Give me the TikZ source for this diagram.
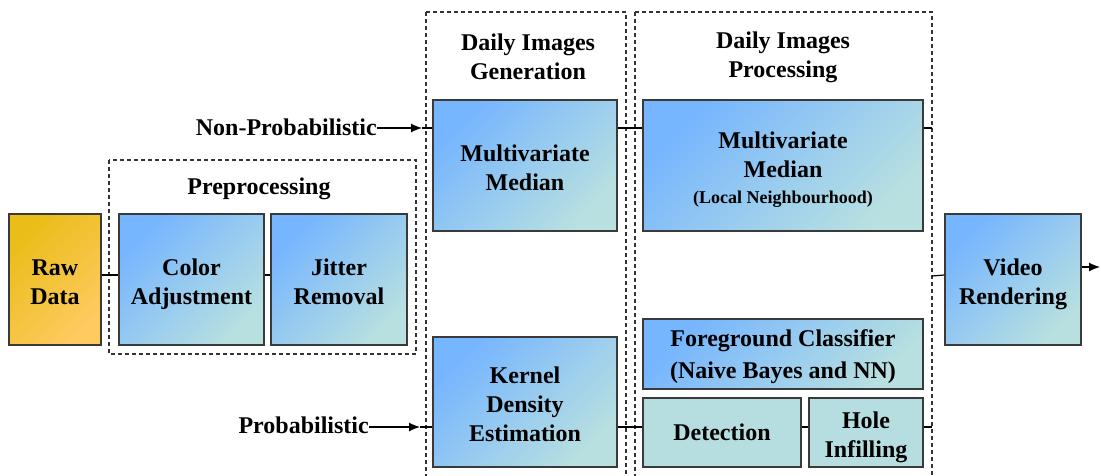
\documentclass[tikz,border=0pt]{standalone}
\usepackage{fontspec}
\setmainfont{Liberation Serif}
\usetikzlibrary{arrows.meta}
\definecolor{goldA}{HTML}{EABD18}
\definecolor{goldB}{HTML}{FFCA60}
\definecolor{blueA}{HTML}{76B5FF}
\definecolor{blueB}{HTML}{B8E0E0}
\definecolor{tealflat}{HTML}{B6DEE0}
\definecolor{edge}{HTML}{3A3A3A}
\tikzset{
  base/.style={draw=edge, line width=1.4pt, inner sep=0pt, align=center, text depth=0pt,
    font=\fontsize{24}{29}\selectfont\bfseries},
  bluebox/.style={base, top color=blueA, bottom color=blueB, shading angle=45},
  goldbox/.style={base, top color=goldA, bottom color=goldB, shading angle=45},
  flatbox/.style={base, fill=tealflat},
  group/.style={draw=black!80, line width=1.2pt, dash pattern=on 4pt off 3pt},
  title/.style={align=center, inner sep=0pt, font=\fontsize{24}{29}\selectfont\bfseries},
  link/.style={draw=black, line width=1.2pt},
  arr/.style={link, -{Latex[length=11pt,width=9pt]}}
}
\begin{document}
\begin{tikzpicture}[x=1pt,y=-1pt]
\useasboundingbox (0,0) rectangle (1101,475);
\fill[white] (0,0) rectangle (1101,475);

% group frames
\draw[group] (109,160) rectangle (416,354);
\draw[group] (426,12) -- (426,485) (426,12) -- (626,12) -- (626,485);
\draw[group] (635,12) -- (635,485) (635,12) -- (932,12) -- (932,485);

% group titles
\node[title] (tpre) at (259,189) {Preprocessing};
\node[title] (tgen) at (528,57) {Daily Images\\Generation};
\node[title] (tproc) at (783,57) {Daily Images\\Processing};

% stages
\node[goldbox, minimum width=92pt, minimum height=131pt] (raw) at (55,279.5) {\strut Raw\\Data};
\node[bluebox, minimum width=145pt, minimum height=131pt] (color) at (191.5,279.5) {\strut Color\\Adjustment};
\node[bluebox, minimum width=136pt, minimum height=131pt] (jitter) at (339,279.5) {\strut Jitter\\Removal};
\node[bluebox, minimum width=184pt, minimum height=131pt] (mmg) at (525,165.5) {\strut Multivariate\\Median};
\node[bluebox, minimum width=184pt, minimum height=130pt] (kde) at (525,402) {\strut Kernel\\Density\\Estimation};
\node[bluebox, minimum width=280pt, minimum height=131pt] (mmp) at (783,165.5)
  {\strut Multivariate\\Median\\[-3pt]{\fontsize{18}{20}\selectfont(Local Neighbourhood)}};
\node[bluebox, minimum width=280pt, minimum height=70pt, font=\fontsize{24}{32}\selectfont\bfseries] (fg) at (783,354)
  {Foreground Classifier\\(Naive Bayes and NN)};
\node[flatbox, minimum width=158pt, minimum height=69pt] (det) at (722,432.5) {Detection};
\node[flatbox, minimum width=114pt, minimum height=69pt] (hole) at (866,432.5) {\strut Hole\\Infilling};
\node[bluebox, minimum width=136pt, minimum height=131pt] (video) at (1013,279.5) {\strut Video\\Rendering};

% inputs
\node[title, anchor=east] (np) at (377,127) {Non-Probabilistic};
\node[title, anchor=east] (pr) at (369,425) {Probabilistic};
\coordinate (npTip) at (422,128);
\coordinate (prTip) at (420,427);
\draw[arr] (np.east |- npTip) -- (npTip);
\draw[link] (npTip) -- (mmg.west |- npTip);
\draw[arr] (pr.east |- prTip) -- (prTip);
\draw[link] (prTip) -- (kde.west |- prTip);

% pipeline links
\draw[link] (raw.east |- 0,275) -- (color.west |- 0,275);
\draw[link] (color.east |- 0,275) -- (jitter.west |- 0,275);
\draw[link] (mmg.east |- npTip) -- (mmp.west |- npTip);
\draw[link] (kde.east |- prTip) -- (det.west |- prTip);
\draw[link] (det.east |- prTip) -- (hole.west |- prTip);

% merge on the processing frame
\coordinate (busA) at (932,128);
\coordinate (busB) at (932,427);
\coordinate (busC) at (932,276);
\draw[link] (mmp.east |- busA) -- (busA);
\draw[link] (hole.east |- busB) -- (busB);
\draw[link] (busC) -- (video.west |- 0,275);

% output
\coordinate (out) at (1100,267);
\draw[arr] (video.east |- out) -- (out);
\end{tikzpicture}
\end{document}
